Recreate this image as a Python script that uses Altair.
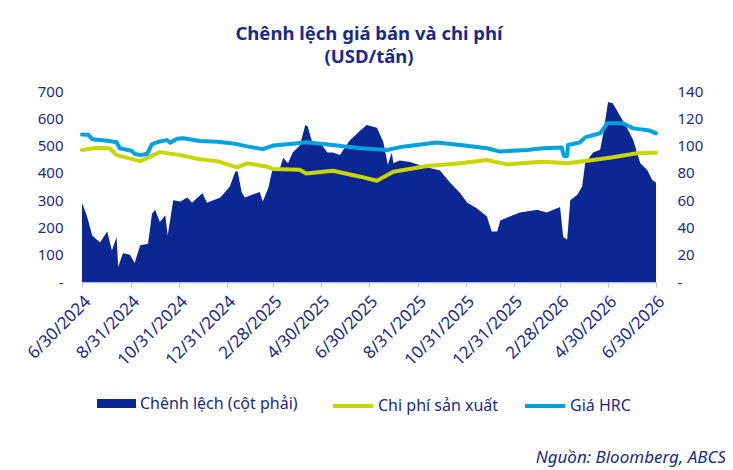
import altair as alt
import pandas as pd

NAVY = "#1A2A8C"
C_AREA = "#0A2793"
C_COST = "#C9D600"
C_HRC = "#00A3DD"
FONT = "Noto Sans"

S_AREA = "Chênh lệch (cột phải)"
S_COST = "Chi phí sản xuất"
S_HRC = "Giá HRC"

spread_dates = [
    "2024-06-30", "2024-07-06", "2024-07-13", "2024-07-23", "2024-08-01", "2024-08-07",
    "2024-08-13", "2024-08-15", "2024-08-21", "2024-08-30", "2024-09-05", "2024-09-12",
    "2024-09-22", "2024-09-27", "2024-10-01", "2024-10-07", "2024-10-14", "2024-10-17",
    "2024-10-24", "2024-11-02", "2024-11-11", "2024-11-17", "2024-11-30", "2024-12-06",
    "2024-12-14", "2024-12-23", "2025-01-04", "2025-01-11", "2025-01-14", "2025-01-19",
    "2025-01-23", "2025-02-11", "2025-02-15", "2025-02-22", "2025-02-27", "2025-03-09",
    "2025-03-13", "2025-03-19", "2025-03-25", "2025-04-03", "2025-04-10", "2025-04-13",
    "2025-04-19", "2025-04-29", "2025-05-08", "2025-05-15", "2025-05-24", "2025-06-06",
    "2025-06-19", "2025-06-27", "2025-07-10", "2025-07-18", "2025-07-24", "2025-07-29",
    "2025-07-31", "2025-08-08", "2025-08-21", "2025-09-12", "2025-09-28", "2025-10-11",
    "2025-10-24", "2025-11-02", "2025-11-14", "2025-11-27", "2025-12-03", "2025-12-10",
    "2025-12-14", "2025-12-26", "2026-01-08", "2026-01-30", "2026-02-11", "2026-02-28",
    "2026-03-04", "2026-03-09", "2026-03-13", "2026-03-22", "2026-03-28", "2026-04-01",
    "2026-04-11", "2026-04-20", "2026-04-24", "2026-04-30", "2026-05-06", "2026-05-15",
    "2026-05-24", "2026-06-01", "2026-06-10", "2026-06-19", "2026-06-25", "2026-06-30",
]
spread_values = [
    58, 49, 34, 29, 37, 23,
    33, 11, 21, 20, 14, 27,
    28, 50, 53, 44, 49, 34,
    60, 59, 62, 58, 65, 58,
    60, 62, 70, 81, 81, 66,
    62, 66, 59, 69, 82, 84,
    91, 87, 95, 100, 115, 114,
    102, 102, 95, 95, 93, 104,
    111, 115, 113, 103, 86, 95,
    87, 89, 88, 84, 82, 73,
    65, 58, 54, 48, 37, 37,
    45, 48, 51, 53, 51, 55,
    33, 31, 60, 64, 70, 87,
    95, 97, 109, 132, 131, 122,
    113, 104, 87, 82, 75, 73,
]

hrc_dates = [
    "2024-06-30", "2024-07-08", "2024-07-13", "2024-08-01", "2024-08-13", "2024-08-17",
    "2024-09-01", "2024-09-05", "2024-09-12", "2024-09-21", "2024-09-27", "2024-10-07",
    "2024-10-16", "2024-10-20", "2024-10-29", "2024-11-06", "2024-11-27", "2024-12-19",
    "2025-01-08", "2025-01-26", "2025-02-15", "2025-02-28", "2025-03-25", "2025-04-11",
    "2025-05-15", "2025-06-19", "2025-07-23", "2025-08-12", "2025-09-24", "2025-10-24",
    "2025-11-27", "2025-12-14", "2026-01-17", "2026-02-06", "2026-03-02", "2026-03-05",
    "2026-03-09", "2026-03-10", "2026-03-25", "2026-04-01", "2026-04-20", "2026-04-29",
    "2026-05-19", "2026-06-01", "2026-06-22", "2026-06-30",
]
hrc_values = [
    541, 540, 523, 518, 512, 490,
    481, 470, 465, 470, 505, 515,
    520, 510, 525, 527, 517, 514,
    508, 497, 487, 500, 507, 512,
    502, 490, 484, 496, 511, 502,
    490, 478, 484, 490, 493, 462,
    462, 502, 511, 530, 545, 582,
    582, 563, 555, 545,
]

cost_dates = [
    "2024-06-30", "2024-07-19", "2024-08-04", "2024-08-13", "2024-09-12", "2024-10-07",
    "2024-11-02", "2024-11-27", "2024-12-19", "2025-01-13", "2025-01-26", "2025-02-20",
    "2025-02-28", "2025-04-03", "2025-04-11", "2025-05-15", "2025-06-19", "2025-07-10",
    "2025-07-31", "2025-09-12", "2025-10-24", "2025-11-27", "2025-12-23", "2026-02-06",
    "2026-03-09", "2026-04-11", "2026-05-06", "2026-06-06", "2026-06-30",
]
cost_values = [
    484, 492, 490, 465, 443, 476,
    465, 450, 443, 420, 435, 423,
    414, 411, 398, 408, 386, 371,
    404, 425, 435, 447, 431, 441,
    435, 447, 457, 472, 474,
]

left_ticks = [0, 100, 200, 300, 400, 500, 600, 700]
right_ticks = [0, 20, 40, 60, 80, 100, 120, 140]
x_ticks = [
    "2024-06-30", "2024-08-31", "2024-10-31", "2024-12-31", "2025-02-28", "2025-04-30",
    "2025-06-30", "2025-08-31", "2025-10-31", "2025-12-31", "2026-02-28", "2026-04-30",
    "2026-06-30",
]


def dt(s):
    return {"year": int(s[:4]), "month": int(s[5:7]), "date": int(s[8:])}


df_area = pd.DataFrame({"date": spread_dates, "value": spread_values, "series": S_AREA})
df_lines = pd.concat([
    pd.DataFrame({"date": cost_dates, "value": cost_values, "series": S_COST}),
    pd.DataFrame({"date": hrc_dates, "value": hrc_values, "series": S_HRC}),
])

x_enc = alt.X(
    "date:T",
    scale=alt.Scale(domain=[dt(x_ticks[0]), dt(x_ticks[-1])]),
    axis=alt.Axis(
        title=None,
        values=[dt(d) for d in x_ticks],
        labelExpr="timeFormat(datum.value, '%-m/%-d/%Y')",
        labelAngle=-45, labelAlign="right", labelBaseline="top",
        labelFontSize=17, labelColor=NAVY, labelFont=FONT, labelPadding=6,
        labelOverlap=False, labelBound=False, labelFlush=False,
        domainColor="#AFC0EA", domainWidth=1.5, tickColor="#AFC0EA", tickSize=5,
        grid=False,
    ),
)

area_legend = alt.Legend(
    title=None, orient="none", direction="horizontal", legendX=15, legendY=293,
    padding=0, labelFontSize=16, labelColor=NAVY, labelFont=FONT, labelOffset=4,
    symbolSize=1521, symbolType="M-1,-0.23H1V0.23H-1Z", symbolStrokeWidth=0,
)
line_legend = alt.Legend(
    title=None, orient="none", direction="horizontal", legendX=249, legendY=293,
    padding=0, labelFontSize=16, labelColor=NAVY, labelFont=FONT, labelOffset=3,
    columnPadding=18, symbolSize=1600, symbolType="stroke", symbolStrokeWidth=4,
)

area = alt.Chart(df_area).mark_area(interpolate="linear").encode(
    x=x_enc,
    y=alt.Y("value:Q", scale=alt.Scale(domain=[0, 140]),
            axis=alt.Axis(orient="right", title=None, values=right_ticks,
                          labelExpr="datum.value == 0 ? '-' : datum.value",
                          labelFontSize=15, labelColor=NAVY, labelFont=FONT,
                          labelPadding=21, ticks=False, domain=False, grid=False)),
    fill=alt.Fill("series:N", scale=alt.Scale(domain=[S_AREA], range=[C_AREA]),
                  legend=area_legend),
)

lines = alt.Chart(df_lines).mark_line(strokeWidth=4, strokeCap="round", strokeJoin="round").encode(
    x=x_enc,
    y=alt.Y("value:Q", scale=alt.Scale(domain=[0, 700]),
            axis=alt.Axis(orient="left", title=None, values=left_ticks,
                          labelExpr="datum.value == 0 ? '-\u00a0\u00a0' : datum.value",
                          labelFontSize=15, labelColor=NAVY, labelFont=FONT,
                          labelPadding=19, ticks=False, domain=False, grid=False)),
    stroke=alt.Stroke("series:N", scale=alt.Scale(domain=[S_COST, S_HRC], range=[C_COST, C_HRC]),
                      legend=line_legend),
)

source = alt.Chart(pd.DataFrame({"t": ["Nguồn: Bloomberg, ABCS"]})).mark_text(
    align="right", baseline="alphabetic", fontSize=17, fontStyle="italic",
    font=FONT, color=NAVY,
).encode(x=alt.value(644), y=alt.value(372), text="t:N")

chart = alt.layer(area, lines, source).resolve_scale(y="independent").properties(
    width=574, height=191,
    title=alt.Title(["Chênh lệch giá bán và chi phí", "(USD/tấn)"], fontSize=18.5,
                    fontWeight="bold", font=FONT, color=NAVY, anchor="middle",
                    offset=18, lineHeight=23),
    autosize=alt.AutoSizeParams(type="none"),
    padding={"left": 74, "top": 83, "right": 69, "bottom": 186},
).configure_view(stroke=None)

chart.save("out.html", embed_options={"renderer": "svg", "actions": False})
